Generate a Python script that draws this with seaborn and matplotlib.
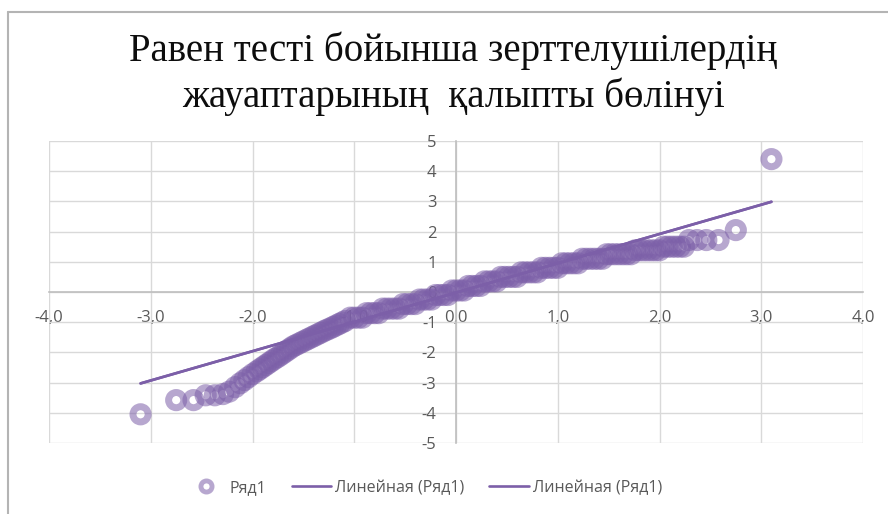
import numpy as np
import matplotlib
matplotlib.use("Agg")
import matplotlib.pyplot as plt
import seaborn as sns
from matplotlib.lines import Line2D
from matplotlib.ticker import FuncFormatter, MultipleLocator

# theoretical quantiles (x) and standardized answers (y)
x_q = [
    -3.10, -2.75, -2.58, -2.46, -2.37, -2.29, -2.23, -2.17, -2.12, -2.08,
    -2.04, -2.00, -1.96, -1.93, -1.90, -1.87, -1.84, -1.81, -1.78, -1.75,
    -1.72, -1.69, -1.66, -1.63, -1.60, -1.57, -1.54, -1.51, -1.48, -1.45,
    -1.42, -1.39, -1.36, -1.33, -1.30, -1.27, -1.24, -1.21, -1.18, -1.15,
    -1.12, -1.09,
    -1.04, -1.00, -0.96, -0.92,
    -0.88, -0.84, -0.80, -0.76,
    -0.72, -0.68, -0.64, -0.60, -0.56,
    -0.52, -0.48, -0.44, -0.40,
    -0.36, -0.32, -0.28, -0.24,
    -0.20, -0.16, -0.12, -0.08,
    -0.04, 0.00, 0.04, 0.08,
    0.12, 0.16, 0.20, 0.24,
    0.28, 0.32, 0.36, 0.40,
    0.44, 0.48, 0.52, 0.56, 0.60,
    0.64, 0.68, 0.72, 0.76, 0.80,
    0.84, 0.88, 0.92, 0.96, 1.00,
    1.04, 1.08, 1.12, 1.16, 1.20,
    1.24, 1.28, 1.32, 1.36, 1.40, 1.44,
    1.48, 1.52, 1.56, 1.60, 1.64, 1.68, 1.72,
    1.76, 1.80, 1.84, 1.88, 1.92, 1.96, 2.00,
    2.04, 2.08, 2.12, 2.16, 2.20, 2.24,
    2.29, 2.37, 2.46, 2.58,
    2.75, 3.10,
]
y_z = [
    -4.05, -3.58, -3.58, -3.42, -3.42, -3.38, -3.30, -3.15, -3.02, -2.92,
    -2.82, -2.72, -2.63, -2.56, -2.49, -2.42, -2.35, -2.28, -2.21, -2.15,
    -2.08, -2.01, -1.94, -1.87, -1.80, -1.75, -1.70, -1.65, -1.60, -1.55,
    -1.50, -1.45, -1.40, -1.35, -1.30, -1.25, -1.21, -1.16, -1.11, -1.06,
    -1.01, -0.96,
    -0.85, -0.85, -0.85, -0.85,
    -0.70, -0.70, -0.70, -0.70,
    -0.55, -0.55, -0.55, -0.55, -0.55,
    -0.40, -0.40, -0.40, -0.40,
    -0.25, -0.25, -0.25, -0.25,
    -0.10, -0.10, -0.10, -0.10,
    0.05, 0.05, 0.05, 0.05,
    0.20, 0.20, 0.20, 0.20,
    0.35, 0.35, 0.35, 0.35,
    0.50, 0.50, 0.50, 0.50, 0.50,
    0.65, 0.65, 0.65, 0.65, 0.65,
    0.80, 0.80, 0.80, 0.80, 0.80,
    0.95, 0.95, 0.95, 0.95, 0.95,
    1.10, 1.10, 1.10, 1.10, 1.10, 1.10,
    1.25, 1.25, 1.25, 1.25, 1.25, 1.25, 1.25,
    1.38, 1.38, 1.38, 1.38, 1.38, 1.38, 1.38,
    1.50, 1.50, 1.50, 1.50, 1.50, 1.50,
    1.72, 1.72, 1.72, 1.72,
    2.05, 4.40,
]

# Excel linear trendline of the series (y = a*x + b)
trend_slope = 0.97
trend_intercept = -0.02

title = "Равен тесті бойынша зерттелушілердің\nжауаптарының  қалыпты бөлінуі"
series_label = "Ряд1"
trend_label = "Линейная (Ряд1)"

purple = "#7c5fa8"
grey_txt = "#595959"

sns.set_style("white")
plt.rcParams["font.family"] = ["Open Sans", "DejaVu Sans"]

fig = plt.figure(figsize=(8.88, 5.14), dpi=100)
ax = fig.add_axes([49 / 888, 1 - 443 / 514, 814 / 888, 302 / 514])

sns.scatterplot(
    x=x_q, y=y_z, ax=ax, marker="o", s=120,
    facecolor="none", edgecolor=purple, linewidth=5.0, alpha=0.55,
    zorder=3, label=series_label, legend=False,
)

# two identical linear trendlines, as in the original
trend_x = np.array([min(x_q), max(x_q)])
trend_y = trend_slope * trend_x + trend_intercept
for _ in range(2):
    sns.lineplot(x=trend_x, y=trend_y, ax=ax, color=purple, lw=1.9,
                 zorder=4, label=trend_label, legend=False)

ax.set_xlim(-4, 4)
ax.set_ylim(-5, 5)
ax.xaxis.set_major_locator(MultipleLocator(1))
ax.yaxis.set_major_locator(MultipleLocator(1))
ax.xaxis.set_major_formatter(FuncFormatter(lambda v, _p: f"{v:.1f}".replace(".", ",")))
ax.yaxis.set_major_formatter(FuncFormatter(lambda v, _p: f"{int(round(v))}"))

# axes cross at the origin, like Excel
for side in ["top", "right"]:
    ax.spines[side].set_visible(False)
ax.spines["left"].set_position(("data", 0))
ax.spines["bottom"].set_position(("data", 0))
for side in ["left", "bottom"]:
    ax.spines[side].set_color("#bfbfbf")
    ax.spines[side].set_linewidth(1.2)
ax.grid(True, color="#d9d9d9", lw=1)
ax.set_axisbelow(True)
ax.tick_params(axis="x", length=0, pad=13, labelsize=12, labelcolor=grey_txt)
ax.tick_params(axis="y", length=0, pad=14, labelsize=12, labelcolor=grey_txt)
ax.set_xlabel("")
ax.set_ylabel("")

fig.text(453 / 888, 1 - 74 / 514, title, ha="center", va="center",
         fontsize=28, family="Liberation Serif", linespacing=1.24, color="#0d0d0d")

handles = [
    Line2D([], [], marker="o", ls="none", markersize=8, markerfacecolor="none",
           markeredgecolor=purple, markeredgewidth=3.5, alpha=0.55),
    Line2D([], [], color=purple, lw=1.9),
    Line2D([], [], color=purple, lw=1.9),
]
labels = [series_label, trend_label, trend_label]
fig.legend(handles, labels, loc="center", bbox_to_anchor=(424 / 888, 1 - 488 / 514),
           ncol=3, frameon=False, fontsize=11.5, labelcolor=grey_txt,
           handlelength=2.5, columnspacing=1.6, handletextpad=0.2)

# chart border (top and left only visible)
fig.add_artist(Line2D([8 / 888, 1], [1 - 12 / 514] * 2, transform=fig.transFigure,
                      color="#b4b4b4", lw=1.5))
fig.add_artist(Line2D([8 / 888, 8 / 888], [0, 1 - 12 / 514], transform=fig.transFigure,
                      color="#b4b4b4", lw=1.5))

fig.savefig("out.png", dpi=100)
